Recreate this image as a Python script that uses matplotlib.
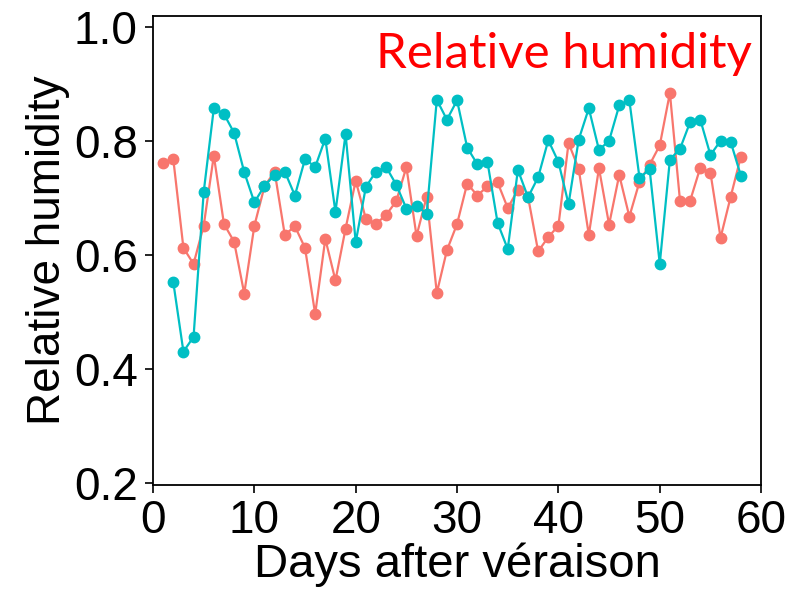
import numpy as np
import matplotlib
matplotlib.use('Agg')
import matplotlib.pyplot as plt

# Days after veraison for each series
days_red = list(range(1, 59))
days_cyan = list(range(2, 59))

# Relative humidity readings
rh_red = [0.761, 0.768, 0.612, 0.584, 0.651, 0.774, 0.654, 0.623, 0.532, 0.651,
          0.720, 0.746, 0.635, 0.650, 0.612, 0.496, 0.628, 0.555, 0.646, 0.730,
          0.663, 0.654, 0.670, 0.694, 0.754, 0.633, 0.702, 0.533, 0.608, 0.654,
          0.725, 0.704, 0.720, 0.727, 0.682, 0.714, 0.702, 0.606, 0.631, 0.651,
          0.796, 0.751, 0.635, 0.752, 0.653, 0.740, 0.667, 0.728, 0.758, 0.792,
          0.884, 0.694, 0.695, 0.753, 0.744, 0.630, 0.702, 0.772]
rh_cyan = [0.552, 0.430, 0.456, 0.710, 0.857, 0.847, 0.814, 0.745, 0.692,
           0.721, 0.740, 0.746, 0.704, 0.768, 0.754, 0.804, 0.675, 0.812, 0.622,
           0.719, 0.746, 0.754, 0.723, 0.681, 0.686, 0.672, 0.872, 0.837, 0.871,
           0.788, 0.759, 0.763, 0.656, 0.610, 0.749, 0.701, 0.736, 0.801, 0.763,
           0.689, 0.802, 0.857, 0.784, 0.800, 0.862, 0.871, 0.735, 0.750, 0.584,
           0.767, 0.786, 0.833, 0.837, 0.775, 0.800, 0.798, 0.739]

plt.rcParams['font.family'] = ['Liberation Sans', 'DejaVu Sans']

fig = plt.figure(figsize=(7.92, 5.92), dpi=100)
ax = fig.add_axes([0.1932, 0.1807, 0.7678, 0.7923])

ax.plot(days_red, rh_red, color='#F8766D', lw=1.6, marker='o', ms=7.5, zorder=2)
ax.plot(days_cyan, rh_cyan, color='#00BFC4', lw=1.6, marker='o', ms=7.5, zorder=3)

ax.set_xlim(0, 60)
ax.set_ylim(0.196, 1.019)
ax.set_xticks([0, 10, 20, 30, 40, 50, 60])
ax.set_yticks([0.2, 0.4, 0.6, 0.8, 1.0])
ax.set_yticklabels(['0.2', '0.4', '0.6', '0.8', '1.0'])
ax.tick_params(labelsize=33, length=6, width=1.2, direction='out')
ax.tick_params(axis='y', pad=5)
ax.tick_params(axis='x', pad=4)
for s in ax.spines.values():
    s.set_linewidth(1.3)
    s.set_color('black')

ax.set_xlabel('Days after véraison', fontsize=34, labelpad=0)
ax.set_ylabel('Relative humidity', fontsize=33, labelpad=3)

ax.text(0.984, 0.966, 'Relative humidity', transform=ax.transAxes,
        ha='right', va='top', color='red', fontsize=35.5, family='Lato')

fig.savefig('out.png', dpi=100)
